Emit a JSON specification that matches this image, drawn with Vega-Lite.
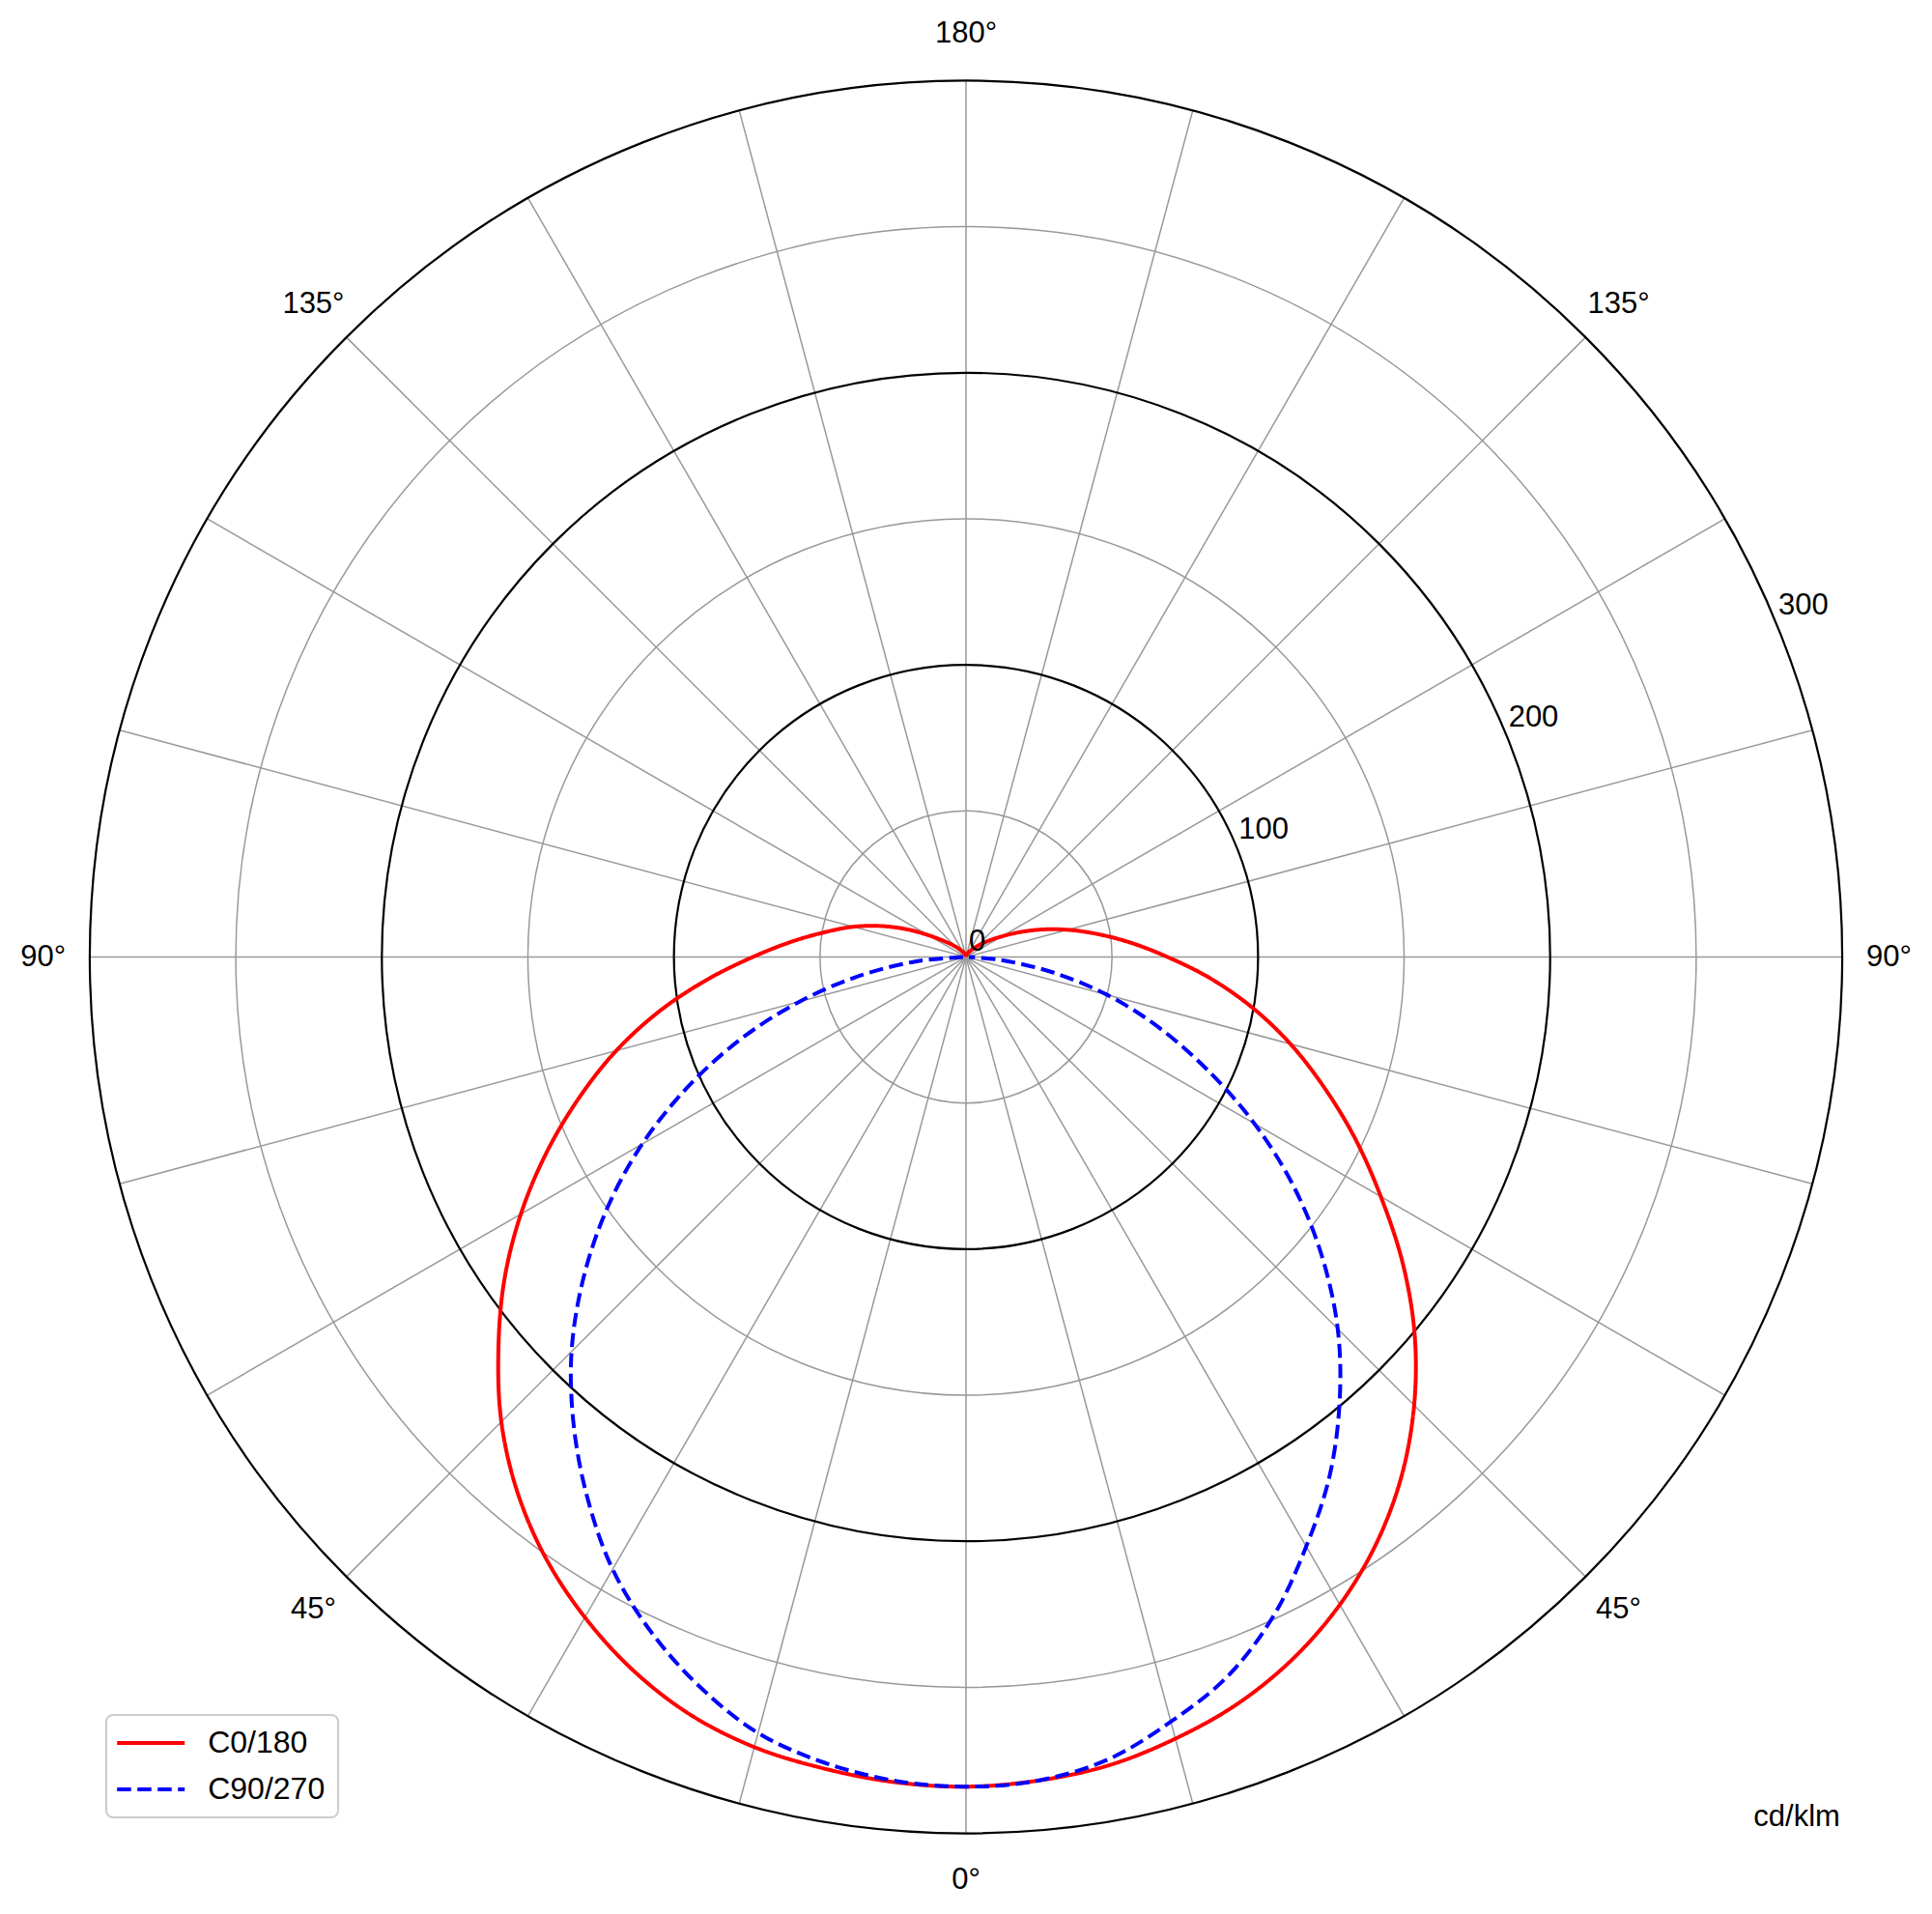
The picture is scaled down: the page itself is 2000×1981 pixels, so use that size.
{
  "$schema": "https://vega.github.io/schema/vega-lite/v6.json",
  "width": 2000,
  "height": 1981,
  "padding": 0,
  "autosize": {"type": "none"},
  "background": "white",
  "config": {
    "view": {"stroke": null},
    "text": {"font": "Liberation Sans", "color": "black"},
    "legend": {"labelFont": "Liberation Sans"}
  },
  "datasets": {
    "spokes": [
      {"a": 0}, {"a": 15}, {"a": 30}, {"a": 45}, {"a": 60}, {"a": 75},
      {"a": 90}, {"a": 105}, {"a": 120}, {"a": 135}, {"a": 150}, {"a": 165}
    ],
    "minor": [{"r": 50}, {"r": 150}, {"r": 250}],
    "major": [{"r": 100}, {"r": 200}, {"r": 300}],
    "curves": [
      {"s": "C0/180", "c": 0, "g": 0, "cd": 284},
      {"s": "C0/180", "c": 0, "g": 5, "cd": 283},
      {"s": "C0/180", "c": 0, "g": 10, "cd": 281},
      {"s": "C0/180", "c": 0, "g": 15, "cd": 277},
      {"s": "C0/180", "c": 0, "g": 20, "cd": 272},
      {"s": "C0/180", "c": 0, "g": 25, "cd": 265},
      {"s": "C0/180", "c": 0, "g": 30, "cd": 256},
      {"s": "C0/180", "c": 0, "g": 35, "cd": 245},
      {"s": "C0/180", "c": 0, "g": 40, "cd": 232},
      {"s": "C0/180", "c": 0, "g": 45, "cd": 217},
      {"s": "C0/180", "c": 0, "g": 50, "cd": 200.5},
      {"s": "C0/180", "c": 0, "g": 55, "cd": 182.5},
      {"s": "C0/180", "c": 0, "g": 60, "cd": 164},
      {"s": "C0/180", "c": 0, "g": 65, "cd": 147},
      {"s": "C0/180", "c": 0, "g": 70, "cd": 130.5},
      {"s": "C0/180", "c": 0, "g": 75, "cd": 115},
      {"s": "C0/180", "c": 0, "g": 80, "cd": 99.5},
      {"s": "C0/180", "c": 0, "g": 85, "cd": 84},
      {"s": "C0/180", "c": 0, "g": 90, "cd": 69},
      {"s": "C0/180", "c": 0, "g": 95, "cd": 56.5},
      {"s": "C0/180", "c": 0, "g": 100, "cd": 45.5},
      {"s": "C0/180", "c": 0, "g": 105, "cd": 36},
      {"s": "C0/180", "c": 0, "g": 110, "cd": 27.5},
      {"s": "C0/180", "c": 0, "g": 115, "cd": 20},
      {"s": "C0/180", "c": 0, "g": 120, "cd": 14},
      {"s": "C0/180", "c": 0, "g": 125, "cd": 10},
      {"s": "C0/180", "c": 0, "g": 130, "cd": 7},
      {"s": "C0/180", "c": 0, "g": 135, "cd": 5},
      {"s": "C0/180", "c": 0, "g": 140, "cd": 3.5},
      {"s": "C0/180", "c": 0, "g": 145, "cd": 2.5},
      {"s": "C0/180", "c": 0, "g": 150, "cd": 2},
      {"s": "C0/180", "c": 0, "g": 155, "cd": 1.5},
      {"s": "C0/180", "c": 0, "g": 160, "cd": 1},
      {"s": "C0/180", "c": 0, "g": 165, "cd": 0.8},
      {"s": "C0/180", "c": 0, "g": 170, "cd": 0.5},
      {"s": "C0/180", "c": 0, "g": 175, "cd": 0.2},
      {"s": "C0/180", "c": 0, "g": 180, "cd": 0},
      {"s": "C0/180", "c": 180, "g": 5, "cd": 283.5},
      {"s": "C0/180", "c": 180, "g": 10, "cd": 282},
      {"s": "C0/180", "c": 180, "g": 15, "cd": 280},
      {"s": "C0/180", "c": 180, "g": 20, "cd": 276},
      {"s": "C0/180", "c": 180, "g": 25, "cd": 269.5},
      {"s": "C0/180", "c": 180, "g": 30, "cd": 261},
      {"s": "C0/180", "c": 180, "g": 35, "cd": 251},
      {"s": "C0/180", "c": 180, "g": 40, "cd": 239},
      {"s": "C0/180", "c": 180, "g": 45, "cd": 225},
      {"s": "C0/180", "c": 180, "g": 50, "cd": 209},
      {"s": "C0/180", "c": 180, "g": 55, "cd": 193},
      {"s": "C0/180", "c": 180, "g": 60, "cd": 176},
      {"s": "C0/180", "c": 180, "g": 65, "cd": 158.5},
      {"s": "C0/180", "c": 180, "g": 70, "cd": 141},
      {"s": "C0/180", "c": 180, "g": 75, "cd": 124},
      {"s": "C0/180", "c": 180, "g": 80, "cd": 106.5},
      {"s": "C0/180", "c": 180, "g": 85, "cd": 89},
      {"s": "C0/180", "c": 180, "g": 90, "cd": 73},
      {"s": "C0/180", "c": 180, "g": 95, "cd": 60},
      {"s": "C0/180", "c": 180, "g": 100, "cd": 49},
      {"s": "C0/180", "c": 180, "g": 105, "cd": 40},
      {"s": "C0/180", "c": 180, "g": 110, "cd": 31},
      {"s": "C0/180", "c": 180, "g": 115, "cd": 22.5},
      {"s": "C0/180", "c": 180, "g": 120, "cd": 15},
      {"s": "C0/180", "c": 180, "g": 125, "cd": 10},
      {"s": "C0/180", "c": 180, "g": 130, "cd": 7},
      {"s": "C0/180", "c": 180, "g": 135, "cd": 5},
      {"s": "C0/180", "c": 180, "g": 140, "cd": 3.5},
      {"s": "C0/180", "c": 180, "g": 145, "cd": 2.5},
      {"s": "C0/180", "c": 180, "g": 150, "cd": 2},
      {"s": "C0/180", "c": 180, "g": 155, "cd": 1.5},
      {"s": "C0/180", "c": 180, "g": 160, "cd": 1},
      {"s": "C0/180", "c": 180, "g": 165, "cd": 0.8},
      {"s": "C0/180", "c": 180, "g": 170, "cd": 0.5},
      {"s": "C0/180", "c": 180, "g": 175, "cd": 0.2},
      {"s": "C0/180", "c": 180, "g": 180, "cd": 0},
      {"s": "C90/270", "c": 90, "g": 0, "cd": 284},
      {"s": "C90/270", "c": 90, "g": 5, "cd": 283},
      {"s": "C90/270", "c": 90, "g": 10, "cd": 279},
      {"s": "C90/270", "c": 90, "g": 15, "cd": 271},
      {"s": "C90/270", "c": 90, "g": 20, "cd": 262},
      {"s": "C90/270", "c": 90, "g": 25, "cd": 249},
      {"s": "C90/270", "c": 90, "g": 30, "cd": 233},
      {"s": "C90/270", "c": 90, "g": 35, "cd": 217},
      {"s": "C90/270", "c": 90, "g": 40, "cd": 199},
      {"s": "C90/270", "c": 90, "g": 45, "cd": 180},
      {"s": "C90/270", "c": 90, "g": 50, "cd": 159},
      {"s": "C90/270", "c": 90, "g": 55, "cd": 137},
      {"s": "C90/270", "c": 90, "g": 60, "cd": 114},
      {"s": "C90/270", "c": 90, "g": 65, "cd": 91},
      {"s": "C90/270", "c": 90, "g": 70, "cd": 70},
      {"s": "C90/270", "c": 90, "g": 75, "cd": 50},
      {"s": "C90/270", "c": 90, "g": 80, "cd": 30},
      {"s": "C90/270", "c": 90, "g": 85, "cd": 12},
      {"s": "C90/270", "c": 90, "g": 90, "cd": 1},
      {"s": "C90/270", "c": 270, "g": 5, "cd": 283},
      {"s": "C90/270", "c": 270, "g": 10, "cd": 280},
      {"s": "C90/270", "c": 270, "g": 15, "cd": 275},
      {"s": "C90/270", "c": 270, "g": 20, "cd": 266},
      {"s": "C90/270", "c": 270, "g": 25, "cd": 255},
      {"s": "C90/270", "c": 270, "g": 30, "cd": 242},
      {"s": "C90/270", "c": 270, "g": 35, "cd": 226},
      {"s": "C90/270", "c": 270, "g": 40, "cd": 209},
      {"s": "C90/270", "c": 270, "g": 45, "cd": 191},
      {"s": "C90/270", "c": 270, "g": 50, "cd": 171},
      {"s": "C90/270", "c": 270, "g": 55, "cd": 150},
      {"s": "C90/270", "c": 270, "g": 60, "cd": 128},
      {"s": "C90/270", "c": 270, "g": 65, "cd": 105},
      {"s": "C90/270", "c": 270, "g": 70, "cd": 82},
      {"s": "C90/270", "c": 270, "g": 75, "cd": 59},
      {"s": "C90/270", "c": 270, "g": 80, "cd": 37},
      {"s": "C90/270", "c": 270, "g": 85, "cd": 17},
      {"s": "C90/270", "c": 270, "g": 90, "cd": 1}
    ],
    "angles": [
      {"pos": 0, "label": "0°"},
      {"pos": 45, "label": "45°"},
      {"pos": -45, "label": "45°"},
      {"pos": 90, "label": "90°"},
      {"pos": -90, "label": "90°"},
      {"pos": 135, "label": "135°"},
      {"pos": -135, "label": "135°"},
      {"pos": 180, "label": "180°"}
    ],
    "rticks": [
      {"v": 0, "label": "0"},
      {"v": 100, "label": "100"},
      {"v": 200, "label": "200"},
      {"v": 300, "label": "300"}
    ],
    "unit": [{"label": "cd/klm"}]
  },
  "layer": [
    {
      "data": {"name": "spokes"},
      "transform": [
        {"calculate": "300 * sin(datum.a * PI / 180)", "as": "x"},
        {"calculate": "-300 * cos(datum.a * PI / 180)", "as": "y"},
        {"calculate": "-datum.x", "as": "x2"},
        {"calculate": "-datum.y", "as": "y2"}
      ],
      "mark": {"type": "rule", "color": "#999999", "strokeWidth": 1.5},
      "encoding": {
        "x": {"field": "x", "type": "quantitative", "scale": {"domain": [-330.76, 330.76], "nice": false, "zero": false}, "axis": null},
        "y": {"field": "y", "type": "quantitative", "scale": {"domain": [-327.59, 327.59], "nice": false, "zero": false}, "axis": null},
        "x2": {"field": "x2"},
        "y2": {"field": "y2"}
      }
    },
    {
      "data": {"name": "minor"},
      "mark": {"type": "arc", "filled": false, "stroke": "#999999", "strokeWidth": 1.5, "theta": 0, "theta2": 6.2832},
      "encoding": {
        "x": {"datum": 0, "type": "quantitative"},
        "y": {"datum": 0, "type": "quantitative"},
        "radius": {"field": "r", "type": "quantitative", "stack": null, "scale": {"type": "linear", "domain": [0, 300], "range": [0, 907.08], "zero": true, "nice": false}, "legend": null}
      }
    },
    {
      "data": {"name": "major"},
      "mark": {"type": "arc", "filled": false, "stroke": "black", "strokeWidth": 2.2, "theta": 0, "theta2": 6.2832},
      "encoding": {
        "x": {"datum": 0, "type": "quantitative"},
        "y": {"datum": 0, "type": "quantitative"},
        "radius": {"field": "r", "type": "quantitative", "stack": null, "scale": {"type": "linear", "domain": [0, 300], "range": [0, 907.08], "zero": true, "nice": false}, "legend": null}
      }
    },
    {
      "data": {"name": "curves"},
      "transform": [
        {"calculate": "datum.c == 0 || datum.c == 90 ? datum.g : -datum.g", "as": "pos"},
        {"calculate": "datum.cd * sin(datum.pos * PI / 180)", "as": "x"},
        {"calculate": "-datum.cd * cos(datum.pos * PI / 180)", "as": "y"}
      ],
      "mark": {"type": "line", "strokeWidth": 4, "strokeCap": "butt", "interpolate": "catmull-rom"},
      "encoding": {
        "x": {"field": "x", "type": "quantitative"},
        "y": {"field": "y", "type": "quantitative"},
        "order": {"field": "pos", "type": "quantitative"},
        "color": {
          "field": "s", "type": "nominal",
          "scale": {"domain": ["C0/180", "C90/270"], "range": ["#ff0000", "#0000ff"]},
          "legend": {
            "title": null, "orient": "none", "legendX": 110, "legendY": 1775,
            "symbolType": "M-2.5,0H2.5", "symbolSize": 784, "symbolStrokeWidth": 4, "symbolOffset": 17.2,
            "labelFontSize": 32, "labelColor": "black", "labelOffset": 43,
            "fillColor": "rgba(255,255,255,0.8)", "strokeColor": "#cccccc", "cornerRadius": 7,
            "padding": 13, "rowPadding": 16,
            "encode": {"legend": {"update": {"strokeWidth": {"value": 2}}}}
          }
        },
        "strokeDash": {
          "field": "s", "type": "nominal",
          "scale": {"domain": ["C0/180", "C90/270"], "range": [[1, 0], [14.5, 6.5]]},
          "legend": {
            "title": null, "orient": "none", "legendX": 110, "legendY": 1775,
            "symbolType": "M-2.5,0H2.5", "symbolSize": 784, "symbolStrokeWidth": 4, "symbolOffset": 17.2,
            "labelFontSize": 32, "labelColor": "black", "labelOffset": 43,
            "fillColor": "rgba(255,255,255,0.8)", "strokeColor": "#cccccc", "cornerRadius": 7,
            "padding": 13, "rowPadding": 16,
            "encode": {"legend": {"update": {"strokeWidth": {"value": 2}}}}
          }
        }
      }
    },
    {
      "data": {"name": "angles"},
      "transform": [
        {"calculate": "316 * sin(datum.pos * PI / 180)", "as": "x"},
        {"calculate": "-316 * cos(datum.pos * PI / 180)", "as": "y"}
      ],
      "mark": {"type": "text", "fontSize": 31, "align": "center", "baseline": "middle"},
      "encoding": {
        "x": {"field": "x", "type": "quantitative"},
        "y": {"field": "y", "type": "quantitative"},
        "text": {"field": "label"}
      }
    },
    {
      "data": {"name": "rticks"},
      "transform": [
        {"calculate": "datum.v * sin(112.5 * PI / 180)", "as": "x"},
        {"calculate": "-datum.v * cos(112.5 * PI / 180)", "as": "y"}
      ],
      "mark": {"type": "text", "fontSize": 31, "align": "left", "baseline": "bottom", "dx": 3},
      "encoding": {
        "x": {"field": "x", "type": "quantitative"},
        "y": {"field": "y", "type": "quantitative"},
        "text": {"field": "label"}
      }
    },
    {
      "data": {"name": "unit"},
      "mark": {"type": "text", "fontSize": 31, "align": "right", "baseline": "middle"},
      "encoding": {
        "x": {"datum": 299.3, "type": "quantitative"},
        "y": {"datum": -294.5, "type": "quantitative"},
        "text": {"field": "label"}
      }
    }
  ]
}
